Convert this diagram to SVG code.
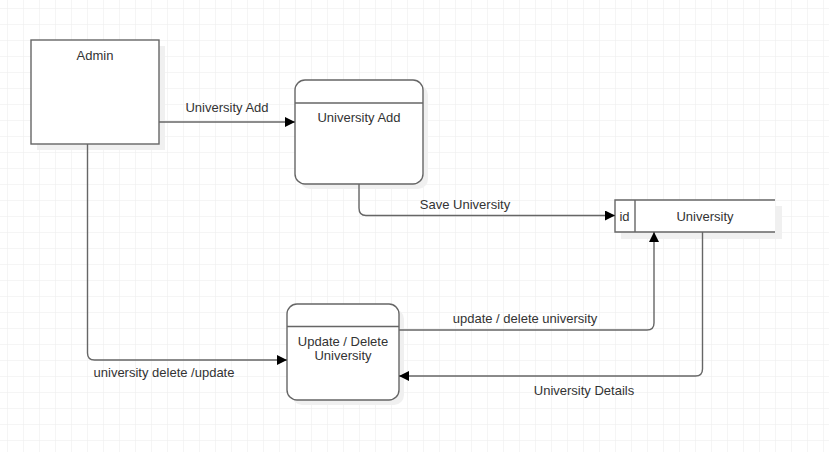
<svg xmlns="http://www.w3.org/2000/svg" width="829" height="452" viewBox="0 0 829 452">
<defs>
<pattern id="grid" x="7" y="8" width="16" height="16" patternUnits="userSpaceOnUse">
<path d="M0 0H16M0 0V16" fill="none" stroke="#ececec" stroke-width="1"/>
</pattern>
<marker id="arr" viewBox="0 0 10 10" refX="10" refY="5" markerWidth="10" markerHeight="10" markerUnits="userSpaceOnUse" orient="auto">
<path d="M0 0L10 5L0 10Z" fill="#000"/>
</marker>
</defs>
<style>
.box{fill:#fff;stroke:#666;stroke-width:1.4}
.sh{fill:#f0f0f0;stroke:none}
.ln{fill:none;stroke:#666;stroke-width:1.4}
text{font-family:"Liberation Sans",Arial,sans-serif;font-size:13px;fill:#333}
.c{text-anchor:middle}
</style>
<rect width="829" height="452" fill="#fff"/>
<rect width="829" height="452" fill="url(#grid)"/>

<g id="admin">
<rect class="sh" x="37" y="46" width="128" height="104"/>
<rect class="box" x="31" y="40" width="128" height="104"/>
<text class="c" x="95" y="60">Admin</text>
</g>

<g id="university-add">
<rect class="sh" x="300" y="85" width="128" height="104" rx="10"/>
<rect class="box" x="295" y="80" width="128" height="104" rx="10"/>
<path class="ln" d="M295 103H423"/>
<text class="c" x="359" y="122">University Add</text>
</g>

<g id="university-table">
<rect class="sh" x="621" y="206" width="161" height="33"/>
<rect x="615" y="200" width="160" height="32" fill="#fff"/>
<path class="ln" d="M775 200H615V232H775M635 200V232"/>
<text class="c" x="624.5" y="220.5">id</text>
<text class="c" x="705" y="220.5">University</text>
</g>

<g id="update-delete">
<rect class="sh" x="292" y="309" width="112" height="96" rx="10"/>
<rect class="box" x="287" y="304" width="112" height="96" rx="10"/>
<path class="ln" d="M287 326.5H399"/>
<text class="c" x="343" y="345.5">Update / Delete</text>
<text class="c" x="343" y="359.5">University</text>
</g>

<g id="connectors">
<path class="ln" d="M159 122H295" marker-end="url(#arr)"/>
<path class="ln" d="M359 184V208Q359 215.5 366 215.5H615" marker-end="url(#arr)"/>
<path class="ln" d="M399 330H647Q654 330 654 323V232" marker-end="url(#arr)"/>
<path class="ln" d="M702.5 232V369Q702.5 376 695.5 376H399" marker-end="url(#arr)"/>
<path class="ln" d="M87.5 144V353Q87.5 360 94.5 360H287" marker-end="url(#arr)"/>
<text class="c" x="227" y="111.5">University Add</text>
<text class="c" x="465" y="209">Save University</text>
<text class="c" x="525" y="322.5">update / delete university</text>
<text class="c" x="584" y="394.5">University Details</text>
<text class="c" x="164" y="377">university delete /update</text>
</g>
</svg>
